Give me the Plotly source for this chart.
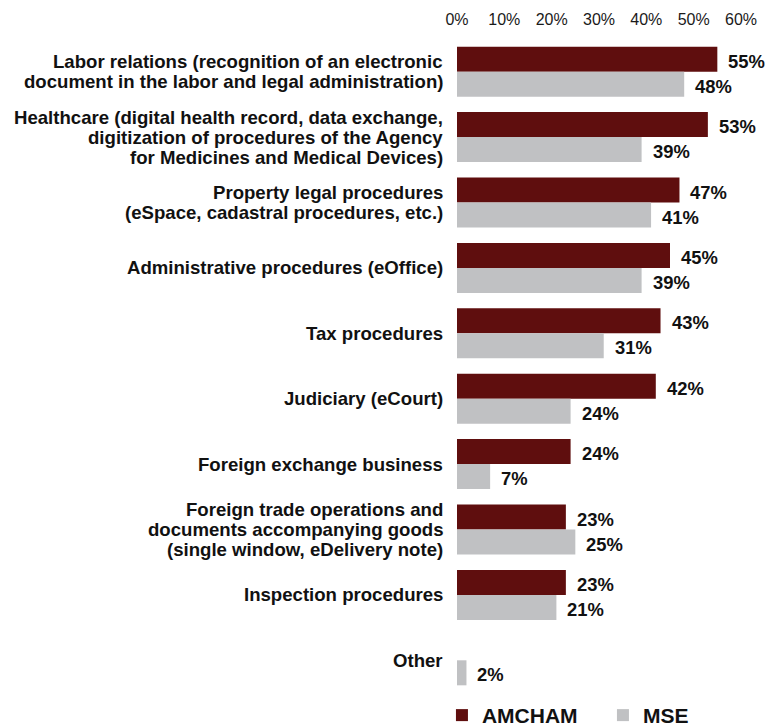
import plotly.graph_objects as go

# Survey: areas where digitalisation of procedures is most needed (share of respondents)
label_lines = [
    ["Labor relations (recognition of an electronic",
     "document in the labor and legal administration)"],
    ["Healthcare (digital health record, data exchange,",
     "digitization of procedures of the Agency",
     "for Medicines and Medical Devices)"],
    ["Property legal procedures",
     "(eSpace, cadastral procedures, etc.)"],
    ["Administrative procedures (eOffice)"],
    ["Tax procedures"],
    ["Judiciary (eCourt)"],
    ["Foreign exchange business"],
    ["Foreign trade operations and",
     "documents accompanying goods",
     "(single window, eDelivery note)"],
    ["Inspection procedures"],
    ["Other"],
]
categories = [" ".join(lines) for lines in label_lines]

amcham = [55, 53, 47, 45, 43, 42, 24, 23, 23, None]
mse = [48, 39, 41, 39, 31, 24, 7, 25, 21, 2]

x_ticks = [0, 10, 20, 30, 40, 50, 60]
x_tick_text = [f"{t}%" for t in x_ticks]

AMCHAM_COLOR = "#5f0e0e"
MSE_COLOR = "#c0c1c3"
FONT = "Liberation Sans, Arial, sans-serif"

fig = go.Figure()
fig.add_trace(go.Bar(name="AMCHAM", y=categories, x=amcham, orientation="h",
                     marker=dict(color=AMCHAM_COLOR, line=dict(width=0))))
fig.add_trace(go.Bar(name="MSE", y=categories, x=mse, orientation="h",
                     marker=dict(color=MSE_COLOR, line=dict(width=0))))

annotations = []

# category labels, one annotation per line for tight line spacing
LINE_H = 20
for cat, lines in zip(categories, label_lines):
    n = len(lines)
    for i, line in enumerate(lines):
        annotations.append(dict(
            x=0, xref="paper", y=cat, yref="y", xanchor="right", yanchor="middle",
            xshift=-12, yshift=((n - 1) / 2 - i) * LINE_H,
            text=f"<b>{line}</b>", showarrow=False,
            font=dict(family=FONT, size=18.6, color="#111111"),
        ))

# value labels next to each bar
BAR_OFFSET = 12.5
for series, off in ((amcham, BAR_OFFSET), (mse, -BAR_OFFSET)):
    for cat, v in zip(categories, series):
        if v is None:
            continue
        annotations.append(dict(
            x=v, xref="x", y=cat, yref="y", xanchor="left", yanchor="middle",
            xshift=9, yshift=off - 2,
            text=f"<b>{v}%</b>", showarrow=False,
            font=dict(family=FONT, size=18.4, color="#111111"),
        ))

fig.update_layout(
    width=767, height=726,
    margin=dict(l=457, r=26, t=39, b=33, autoexpand=False),
    paper_bgcolor="white", plot_bgcolor="white",
    barmode="group", bargap=0.235, bargroupgap=0,
    font=dict(family=FONT, color="#111111"),
    annotations=annotations,
    showlegend=True,
    legend=dict(orientation="h", x=-0.053, xanchor="left",
                y=-0.003, yref="paper", yanchor="top",
                font=dict(family=FONT, size=21, color="#111111", weight="bold"),
                entrywidth=116, entrywidthmode="pixels",
                bgcolor="rgba(0,0,0,0)", traceorder="normal"),
    xaxis=dict(range=[0, 60], side="top", tickmode="array", tickvals=x_ticks,
               ticktext=x_tick_text, showgrid=False, zeroline=False, showline=False,
               ticks="", ticklabelstandoff=10,
               tickfont=dict(family=FONT, size=16, color="#1a1a1a"),
               fixedrange=True),
    yaxis=dict(autorange="reversed", showticklabels=False, showgrid=False,
               zeroline=False, showline=False, ticks="", fixedrange=True),
)

fig.write_html("out.html")
